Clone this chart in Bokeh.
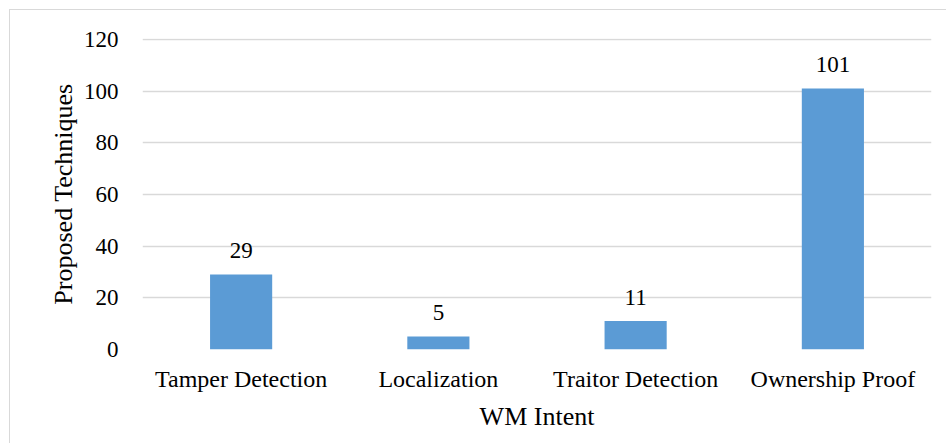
from bokeh.plotting import figure
from bokeh.models import ColumnDataSource, FactorRange, Range1d, FixedTicker
from bokeh.core.properties import value
from bokeh.embed import file_html
from bokeh.resources import INLINE

categories = ["Tamper Detection", "Localization", "Traitor Detection", "Ownership Proof"]
counts = [29, 5, 11, 101]
y_ticks = [0, 20, 40, 60, 80, 100, 120]

FONT = "Liberation Serif"
BAR = "#5B9BD5"
GRID = "#D9D9D9"

src = ColumnDataSource(dict(cat=categories, n=counts, lbl=[str(c) for c in counts]))

p = figure(width=937, height=434, output_backend="svg", toolbar_location=None,
           x_range=FactorRange(*categories, range_padding=0), y_range=Range1d(0, 120.4))
p.styles = {"border-top": "1.5px solid #D9D9D9", "border-left": "1.5px solid #D9D9D9",
            "margin-top": "9px", "margin-left": "9px"}
p.min_border_left = 132
p.min_border_right = 16
p.min_border_top = 28
p.min_border_bottom = 95
p.outline_line_color = None
p.background_fill_color = "white"
p.border_fill_color = "white"

p.vbar(x="cat", top="n", width=0.315, source=src, fill_color=BAR, line_color=None)
p.text(x="cat", y="n", text="lbl", source=src, text_align="center", text_baseline="alphabetic",
       y_offset=-24, text_font=value(FONT), text_font_size="23px", text_color="black")

p.xgrid.grid_line_color = None
p.ygrid.grid_line_color = GRID
p.ygrid.grid_line_width = 1.3
p.yaxis.ticker = FixedTicker(ticks=y_ticks)

for ax in (p.xaxis, p.yaxis):
    ax.axis_line_color = None
    ax.major_tick_line_color = None
    ax.minor_tick_line_color = None
    ax.major_label_text_font = FONT
    ax.major_label_text_color = "black"
    ax.axis_label_text_font = FONT
    ax.axis_label_text_font_size = "26px"
    ax.axis_label_text_font_style = "normal"
    ax.axis_label_text_color = "black"

p.xaxis.major_label_text_font_size = "24px"
p.yaxis.major_label_text_font_size = "23px"

p.yaxis.major_label_standoff = 18
p.yaxis.axis_label = "Proposed Techniques"
p.yaxis.axis_label_standoff = 3
p.xaxis.major_label_standoff = 10
p.xaxis.axis_label = "WM Intent"
p.xaxis.axis_label_standoff = 7

open("out.html", "w").write(file_html(p, INLINE))
